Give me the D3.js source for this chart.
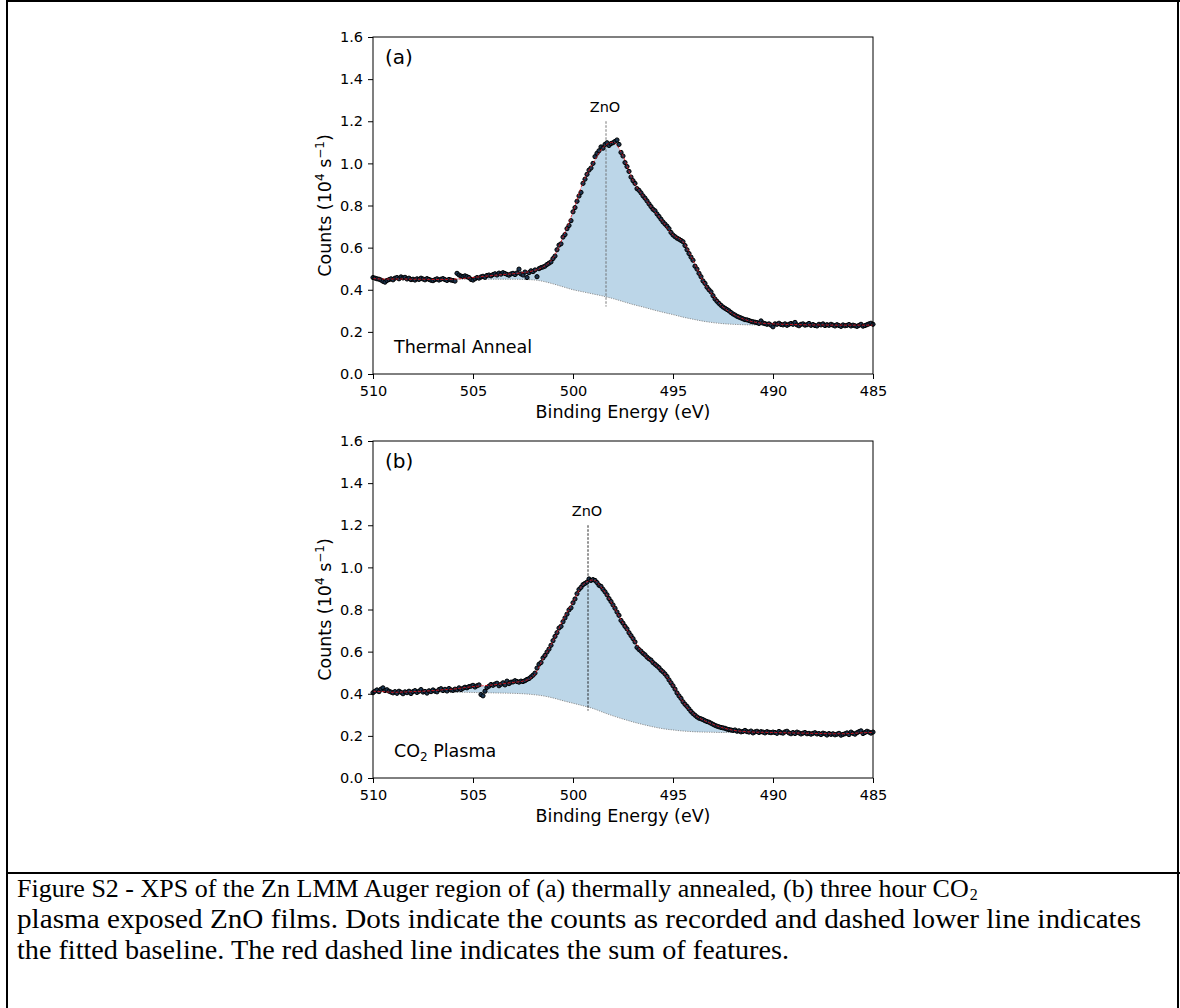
<!DOCTYPE html>
<html>
<head>
<meta charset="utf-8">
<script src="https://cdn.jsdelivr.net/npm/d3@7"></script>
<style>
  body { margin: 0; background: #fff; }
  svg { display: block; }
</style>
</head>
<body>
<svg id="fig" width="1180" height="1008"></svg>
<script>
// ---------- data ----------
// measured points every 0.1 eV, 510.0 -> 485.0
let energy = d3.range(251).map(i => +(510 - i * 0.1).toFixed(1));
// fit / baseline read every 0.5 eV, 510.0 -> 485.0
let fitEnergy = d3.range(51).map(i => +(510 - i * 0.5).toFixed(1));

let countsA = [
  .458,.455,.452,.450,.446,.440,.436,.444,.448,.452,
  .447,.455,.458,.452,.461,.456,.459,.451,.455,.448,
  .450,.446,.452,.449,.455,.451,.447,.453,.449,.445,
  .443,.448,.452,.446,.450,.453,.448,.444,.449,.446,
  .444,.441,.478,.470,.465,.463,.466,.462,.458,.449,
  .446,.452,.458,.455,.461,.464,.459,.468,.470,.466,
  .472,.476,.470,.479,.474,.481,.477,.473,.469,.475,
  .478,.472,.480,.498,.475,.470,.484,.458,.481,.490,
  .486,.494,.462,.500,.505,.508,.512,.520,.526,.532,
  .548,.560,.590,.612,.618,.650,.662,.690,.705,.728,
  .770,.790,.820,.845,.862,.905,.925,.948,.968,.978,
  1.000,1.032,1.048,1.060,1.078,1.072,1.090,1.098,1.085,1.094,
  1.098,1.104,1.111,1.090,1.052,1.035,1.004,.985,.962,.935,
  .918,.905,.880,.872,.860,.846,.835,.822,.808,.795,
  .782,.775,.760,.748,.735,.722,.712,.702,.690,.672,
  .660,.652,.645,.640,.634,.628,.610,.590,.572,.555,
  .540,.512,.498,.478,.462,.442,.430,.412,.400,.390,
  .372,.356,.345,.335,.326,.318,.312,.306,.300,.292,
  .285,.280,.274,.270,.266,.262,.258,.257,.254,.250,
  .248,.246,.244,.240,.252,.242,.239,.236,.238,.232,
  .224,.238,.236,.241,.235,.233,.238,.231,.236,.240,
  .236,.245,.233,.229,.236,.238,.232,.234,.240,.231,
  .235,.230,.228,.236,.233,.238,.230,.234,.231,.236,
  .232,.228,.234,.230,.226,.233,.229,.231,.235,.228,
  .232,.229,.226,.231,.236,.227,.230,.234,.238,.241,
  .236
];

let fitA = [
  .453,.451,.451,.451,.450,.450,.449,.449,.450,.454,
  .458,.463,.468,.472,.476,.481,.490,.508,.550,.650,
  .770,.910,1.000,1.075,1.100,1.035,.918,.846,.782,.722,
  .660,.628,.540,.442,.372,.318,.285,.262,.248,.241,
  .238,.236,.235,.234,.233,.233,.232,.232,.232,.232,
  .232
];

let baseA = [
  .452,.452,.452,.451,.451,.451,.451,.450,.450,.450,
  .450,.450,.450,.450,.450,.449,.447,.440,.428,.414,
  .400,.390,.380,.370,.358,.344,.330,.318,.305,.293,
  .282,.270,.260,.251,.244,.239,.236,.234,.233,.233,
  .233,.233,.232,.232,.232,.232,.232,.232,.232,.232,
  .232
];

let countsB = [
  .405,.412,.418,.410,.422,.428,.415,.419,.412,.408,
  .404,.410,.402,.412,.407,.400,.409,.405,.412,.401,
  .410,.415,.406,.412,.420,.408,.411,.403,.414,.410,
  .418,.412,.409,.420,.424,.415,.421,.413,.425,.418,
  .416,.422,.419,.428,.420,.426,.431,.428,.434,.436,
  .440,.432,.438,.442,.396,.390,.412,.430,.436,.444,
  .440,.446,.450,.438,.445,.452,.442,.460,.448,.455,
  .456,.462,.458,.455,.460,.458,.462,.468,.472,.480,
  .488,.498,.522,.540,.548,.570,.582,.598,.612,.630,
  .652,.672,.690,.712,.720,.742,.760,.778,.798,.808,
  .832,.850,.875,.895,.905,.918,.924,.930,.945,.938,
  .942,.938,.928,.915,.910,.896,.884,.870,.852,.838,
  .822,.806,.788,.772,.748,.735,.720,.708,.690,.676,
  .662,.646,.620,.610,.602,.592,.585,.574,.566,.560,
  .548,.540,.532,.524,.512,.504,.494,.482,.466,.452,
  .438,.422,.404,.390,.378,.362,.350,.340,.328,.316,
  .306,.298,.290,.284,.281,.277,.272,.268,.265,.260,
  .255,.250,.246,.243,.240,.238,.236,.232,.230,.228,
  .226,.228,.222,.224,.219,.221,.226,.220,.218,.223,
  .214,.219,.222,.216,.220,.218,.214,.220,.217,.215,
  .218,.216,.212,.221,.215,.213,.219,.222,.214,.210,
  .216,.211,.218,.214,.209,.213,.216,.210,.212,.208,
  .212,.215,.209,.211,.206,.213,.210,.204,.211,.207,
  .210,.205,.208,.212,.203,.207,.210,.214,.206,.218,
  .212,.208,.215,.220,.224,.211,.216,.222,.218,.213,
  .218
];

let fitB = [
  .412,.410,.407,.408,.410,.412,.415,.419,.422,.428,
  .434,.438,.442,.448,.454,.460,.482,.565,.650,.750,
  .835,.918,.940,.895,.820,.735,.660,.592,.548,.504,
  .438,.362,.306,.276,.255,.238,.227,.221,.218,.217,
  .216,.215,.214,.213,.212,.211,.210,.210,.212,.215,
  .216
];

let baseB = [
  .410,.410,.410,.410,.409,.409,.408,.408,.407,.407,
  .406,.405,.404,.403,.402,.400,.396,.390,.380,.367,
  .355,.343,.330,.312,.295,.280,.266,.254,.243,.234,
  .228,.223,.220,.218,.217,.216,.216,.216,.216,.216,
  .216,.215,.215,.215,.215,.215,.215,.215,.215,.215,
  .215
];

let panelLabels = ["(a)", "(b)"];
let peakName = "ZnO";
let peakPositions = [498.35, 499.25];
let xTicks = [510, 505, 500, 495, 490, 485];
let yTicks = [0.0, 0.2, 0.4, 0.6, 0.8, 1.0, 1.2, 1.4, 1.6];

let captionLines = [
  "Figure S2 - XPS of the Zn LMM Auger region of (a) thermally annealed, (b) three hour CO",
  "plasma exposed ZnO films. Dots indicate the counts as recorded and dashed lower line indicates",
  "the fitted baseline. The red dashed line indicates the sum of features."
];
let captionWidths = [null, 1124, 772];

// ---------- layout ----------
let svg = d3.select("#fig");
let W = 500, H = 337;
let left = 373;
let panelTops = [37, 441];
let axisFont = "DejaVu Sans, sans-serif";

// page frame (table borders)
let frame = svg.append("g").attr("stroke", "#000").attr("stroke-width", 2);
frame.append("line").attr("x1", 7).attr("x2", 7).attr("y1", 0).attr("y2", 1008);
frame.append("line").attr("x1", 1178).attr("x2", 1178).attr("y1", 0).attr("y2", 1008);
frame.append("line").attr("x1", 6).attr("x2", 1180).attr("y1", 1).attr("y2", 1);
frame.append("line").attr("x1", 6).attr("x2", 1180).attr("y1", 873).attr("y2", 873);

let x = d3.scaleLinear().domain([510, 485]).range([0, W]);
let y = d3.scaleLinear().domain([0, 1.6]).range([H, 0]);

function drawPanel(idx, counts, fit, base, sampleLabel) {
  let g = svg.append("g").attr("transform", `translate(${left},${panelTops[idx]})`);

  // fill between baseline and sum of features
  let area = d3.area()
    .x((d, i) => x(fitEnergy[i]))
    .y0((d, i) => y(base[i]))
    .y1(d => y(d))
    .curve(d3.curveMonotoneX);
  g.append("path").datum(fit).attr("d", area).attr("fill", "#bcd6e8");

  // baseline (dotted)
  let line = d3.line().x((d, i) => x(fitEnergy[i])).y(d => y(d)).curve(d3.curveMonotoneX);
  g.append("path").datum(base).attr("d", line)
    .attr("fill", "none").attr("stroke", "#777").attr("stroke-width", 0.8)
    .attr("stroke-dasharray", "1.2,1.2");

  // peak marker
  let px = x(peakPositions[idx]);
  g.append("line").attr("x1", px).attr("x2", px).attr("y1", y(1.2)).attr("y2", y(0.32))
    .attr("stroke", idx == 0 ? "#666" : "#111").attr("stroke-width", 0.9)
    .attr("stroke-dasharray", "2.5,1.5");
  g.append("text").attr("x", px - 1).attr("y", y(1.27)).attr("dy", "0.35em")
    .attr("text-anchor", "middle").attr("font-family", axisFont).attr("font-size", 14.5)
    .text(peakName);

  // recorded counts
  g.selectAll("circle.pt").data(counts).enter().append("circle")
    .attr("class", "pt")
    .attr("cx", (d, i) => x(energy[i]))
    .attr("cy", d => y(d))
    .attr("r", 2.1)
    .attr("fill", "#1b3550")
    .attr("stroke", "#000").attr("stroke-width", 1);

  // sum of features (red dashed)
  g.append("path").datum(fit).attr("d", line)
    .attr("fill", "none").attr("stroke", "#e8121b").attr("stroke-width", 0.8)
    .attr("stroke-dasharray", "3,1.5");

  // axes
  let xAxis = d3.axisBottom(x).tickValues(xTicks).tickSize(5).tickPadding(7).tickFormat(d3.format("d"));
  let yAxis = d3.axisLeft(y).tickValues(yTicks).tickSize(5).tickPadding(5).tickFormat(d3.format(".1f"));
  let gx = g.append("g").attr("transform", `translate(0,${H})`).call(xAxis);
  let gy = g.append("g").call(yAxis);
  [gx, gy].forEach(a => {
    a.select(".domain").remove();
    a.selectAll("text").attr("font-family", axisFont).attr("font-size", 14.5).attr("fill", "#000");
    a.selectAll("line").attr("stroke", "#000");
  });

  g.append("rect").attr("x", 0).attr("y", 0).attr("width", W).attr("height", H)
    .attr("fill", "none").attr("stroke", "#000").attr("stroke-width", 1);

  // axis labels
  g.append("text").attr("x", W / 2).attr("y", H + 44).attr("text-anchor", "middle")
    .attr("font-family", axisFont).attr("font-size", 17.5).text("Binding Energy (eV)");

  let yl = g.append("text").attr("transform", `translate(-42,${H / 2}) rotate(-90)`)
    .attr("text-anchor", "middle").attr("font-family", axisFont).attr("font-size", 17.5);
  yl.append("tspan").text("Counts (10");
  yl.append("tspan").attr("dy", -7).attr("font-size", 12).text("4");
  yl.append("tspan").attr("dy", 7).text(" s");
  yl.append("tspan").attr("dy", -7).attr("font-size", 12).text("\u22121");
  yl.append("tspan").attr("dy", 7).text(")");

  g.append("text").attr("x", 12).attr("y", 27).attr("font-family", axisFont)
    .attr("font-size", 20).text(panelLabels[idx]);

  let sl = g.append("text").attr("x", 21).attr("y", H - 21).attr("font-family", axisFont)
    .attr("font-size", 17.5);
  sl.append("tspan").text(sampleLabel[0]);
  if (sampleLabel.length > 1) {
    sl.append("tspan").attr("dy", 4).attr("font-size", 12).text(sampleLabel[1]);
    sl.append("tspan").attr("dy", -4).text(sampleLabel[2]);
  }
}

drawPanel(0, countsA, fitA, baseA, ["Thermal Anneal"]);
drawPanel(1, countsB, fitB, baseB, ["CO", "2", " Plasma"]);

// caption
let cap = svg.append("g").attr("font-family", "Liberation Serif, Times New Roman, serif")
  .attr("font-size", 28).attr("fill", "#000");
let firstEnd = 0;
captionLines.forEach((txt, i) => {
  let t = cap.append("text").attr("x", 17).attr("y", 897 + i * 31).text(txt);
  if (captionWidths[i]) {
    t.attr("textLength", captionWidths[i]).attr("lengthAdjust", "spacingAndGlyphs");
  } else {
    t.attr("font-size", 26);
    firstEnd = 17 + t.node().getComputedTextLength();
  }
});
// subscript of CO2 at the end of the first caption line
cap.append("text").attr("x", firstEnd + 1).attr("y", 900)
  .attr("font-size", 16).text("2");
</script>
</body>
</html>
